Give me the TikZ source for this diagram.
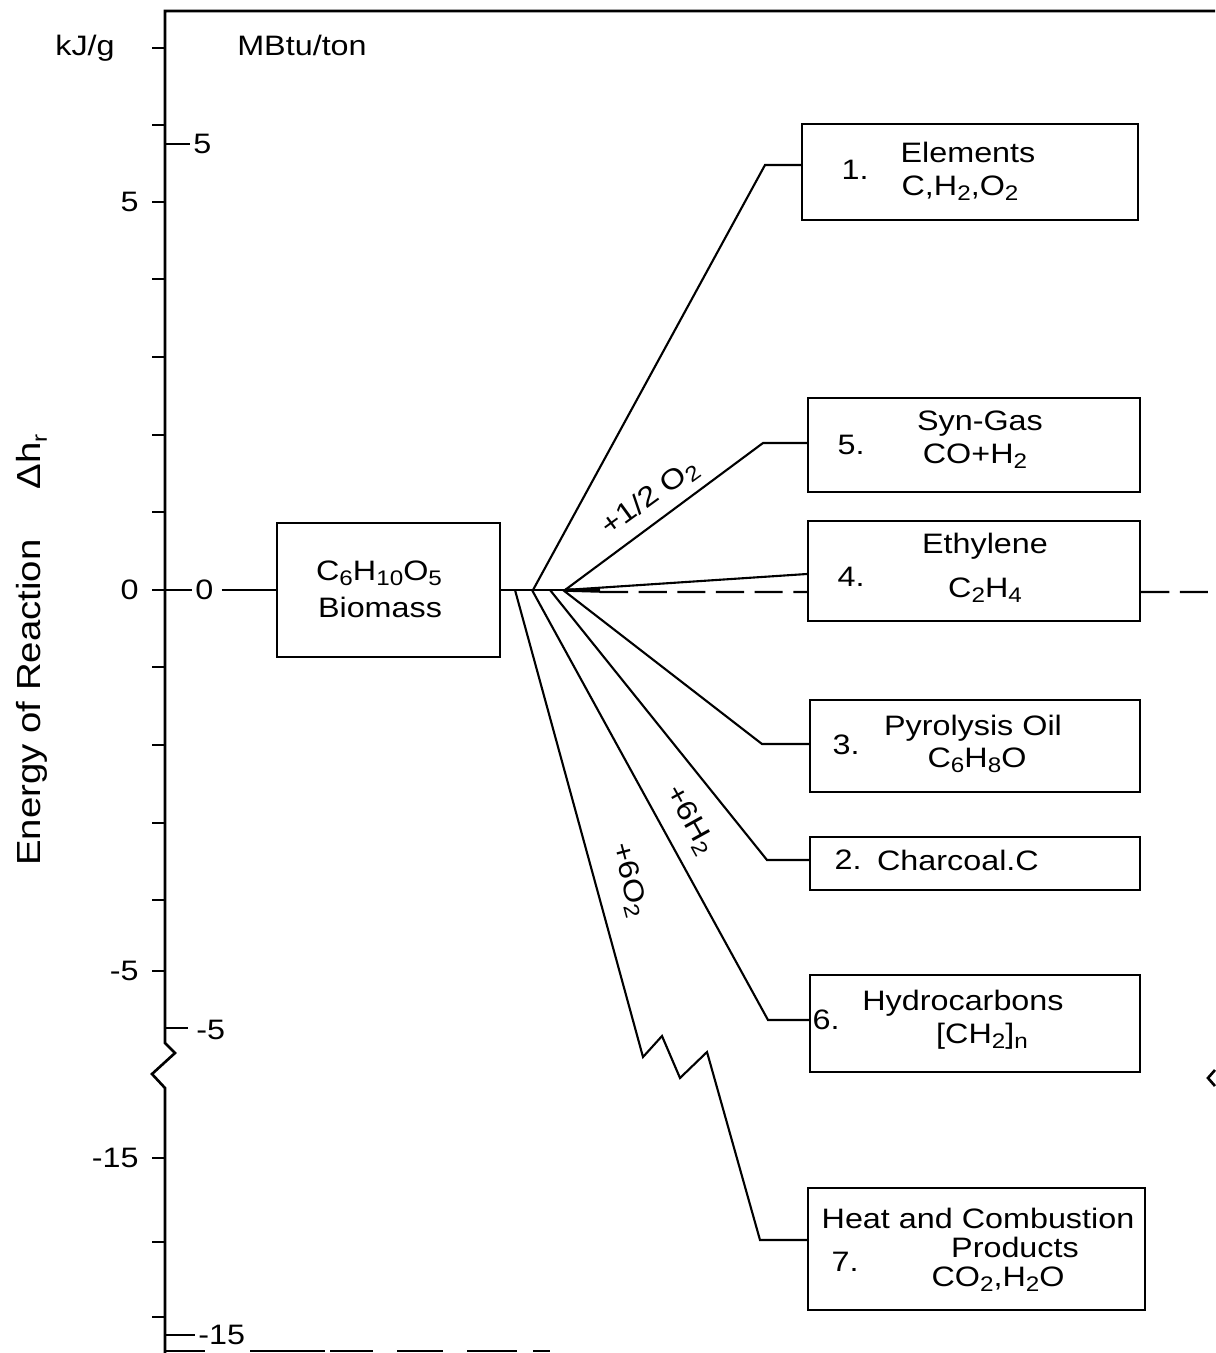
\documentclass[tikz,border=0pt]{standalone}
\usepackage{fontspec}
\setmainfont{Liberation Sans}[FakeStretch=1.15]
\usetikzlibrary{positioning,calc}
\newcommand{\lowidx}[1]{\raisebox{-0.35ex}{\fontsize{12}{12}\selectfont #1}}

\begin{document}
\begin{tikzpicture}[
x=0.02cm, y=-0.02cm,
box/.style={draw,line width=1.4pt,inner sep=0pt},
txt/.style={inner sep=0pt,font=\fontsize{16}{18}\selectfont},
link/.style={line width=1.2pt},
ax/.style={line width=1.5pt},
refline/.style={line width=1.2pt,dash pattern=on 16pt off 6pt}
]
\useasboundingbox (0,0) rectangle (1215,1353);

% axis and frame
\draw[ax] (1215,11) -- (165,11) -- (165,1043) -- (175,1053) -- (152,1074) -- (165,1088) -- (165,1353);
\foreach \a/\b in {165/205,250/325,330/373,397/443,467/517,533/550}
  \draw[ax] (\a,1351) -- (\b,1351);
\foreach \y in {48,125,202,279,357,435,512,590,667,745,823,900,971,1158,1242,1317}
  \draw[ax] (152,\y) -- (165,\y);
\foreach \y/\l in {144/190,590/192,1028/188,1335/195}
  \draw[link] (165,\y) -- (\l,\y);
\draw[ax] (1215,1070) -- (1208,1078) -- (1215,1086);

\node[txt] (kjg) at (85,48) {kJ/g};
\node[txt] (mbtu) at (302,45) {MBtu/ton};
\node[txt,rotate=90,font=\fontsize{19}{21}\selectfont] (ylab) at (32,650) {Energy of Reaction\hspace{1.5em}Δh\lowidx{r}};
\node[txt,anchor=east] (k5) at (139,202) {5};
\node[txt,anchor=east] (k0) at (139,590) {0};
\node[txt,anchor=east] (km5) at (139,971) {-5};
\node[txt,anchor=east] (km15) at (139,1158) {-15};
\node[txt,anchor=west] (m5) at (193,144) {5};
\node[txt,anchor=west] (m0) at (195,590) {0};
\node[txt,anchor=west] (mm5) at (196,1030) {-5};
\node[txt,anchor=west] (mm15) at (198,1335) {-15};

% boxes
\node[box,minimum width=4.46cm,minimum height=2.68cm] (bio) at (388.5,590) {};
\node[box,minimum width=6.72cm,minimum height=1.92cm] (b1) at (970,172) {};
\node[box,minimum width=6.64cm,minimum height=1.88cm] (b5) at (974,445) {};
\node[box,minimum width=6.64cm,minimum height=2.00cm] (b4) at (974,571) {};
\node[box,minimum width=6.60cm,minimum height=1.84cm] (b3) at (975,746) {};
\node[box,minimum width=6.60cm,minimum height=1.06cm] (b2) at (975,863.5) {};
\node[box,minimum width=6.60cm,minimum height=1.94cm] (b6) at (975,1023.5) {};
\node[box,minimum width=6.74cm,minimum height=2.44cm] (b7) at (976.5,1249) {};

\node[txt] (bioa) at (379,573) {C\lowidx{6}H\lowidx{10}O\lowidx{5}};
\node[txt] (biob) at (380,607) {Biomass};
\node[txt] (n1) at (855,170) {1.};
\node[txt] (t1a) at (968,152) {Elements};
\node[txt] (t1b) at (960,188) {C,H\lowidx{2},O\lowidx{2}};
\node[txt] (n5) at (851,445) {5.};
\node[txt] (t5a) at (980,424) {Syn-Gas};
\node[txt] (t5b) at (975,456) {CO+H\lowidx{2}};
\node[txt] (n4) at (851,577) {4.};
\node[txt] (t4a) at (985,546) {Ethylene};
\node[txt] (t4b) at (985,590) {C\lowidx{2}H\lowidx{4}};
\node[txt] (n3) at (846,745) {3.};
\node[txt] (t3a) at (973,728) {Pyrolysis Oil};
\node[txt] (t3b) at (977,760) {C\lowidx{6}H\lowidx{8}O};
\node[txt] (n2) at (848,860) {2.};
\node[txt] (t2a) at (958,860) {Charcoal.C};
\node[txt] (n6) at (826,1020) {6.};
\node[txt] (t6a) at (963,1003) {Hydrocarbons};
\node[txt] (t6b) at (982,1036) {[CH\lowidx{2}]\lowidx{n}};
\node[txt] (t7a) at (978,1218) {Heat and Combustion};
\node[txt] (t7b) at (1015,1247) {Products};
\node[txt] (n7) at (845,1262) {7.};
\node[txt] (t7c) at (998,1279) {CO\lowidx{2},H\lowidx{2}O};

% fan of reactions
\coordinate (o7) at (515,590);
\coordinate (o6) at (532,590);
\coordinate (o1) at (533,590);
\coordinate (o2) at (550,590);
\coordinate (o3) at (563,590);
\coordinate (o5) at (565,590);
\coordinate (q1) at (765,165);
\coordinate (q5) at (763,443);
\coordinate (q3) at (762,744);
\coordinate (q2) at (767,860);
\coordinate (q6) at (768,1020);
\coordinate (z1) at (643,1057);
\coordinate (z2) at (662,1036);
\coordinate (z3) at (680,1078);
\coordinate (z4) at (707,1052);
\coordinate (q7) at (760,1240);
\coordinate (rz) at (1215,592);

\draw[link] (m0.east) ++(8,0) coordinate (s0) -- (bio.west);
\draw[link] (bio.east) -- (o5);
\draw[line width=2pt] (o5) -- ++(35,1);
\draw[link] (o1) -- (q1) -- (q1 -| b1.west);
\draw[link] (o5) -- (q5) -- (q5 -| b5.west);
\draw[link] (o5) -- ([yshift=-0.06cm]b4.west);
\draw[refline] ([xshift=0.7cm,yshift=-0.04cm]o5) -- ([yshift=-0.42cm]b4.west);
\draw[refline] ([yshift=-0.42cm]b4.east) -- (rz);
\draw[link] (o3) -- (q3) -- (q3 -| b3.west);
\draw[link] (o2) -- (q2) -- (q2 -| b2.west);
\draw[link] (o6) -- (q6) -- (q6 -| b6.west);
\draw[link] (o7) -- (z1) -- (z2) -- (z3) -- (z4) -- (q7) -- (q7 -| b7.west);

\node[txt,rotate=36] (r5) at (650,498) {+1/2 O\lowidx{2}};
\node[txt,rotate=-61] (r6) at (690,820) {+6H\lowidx{2}};
\node[txt,rotate=-75] (r7) at (629,880) {+6O\lowidx{2}};
\end{tikzpicture}
\end{document}
